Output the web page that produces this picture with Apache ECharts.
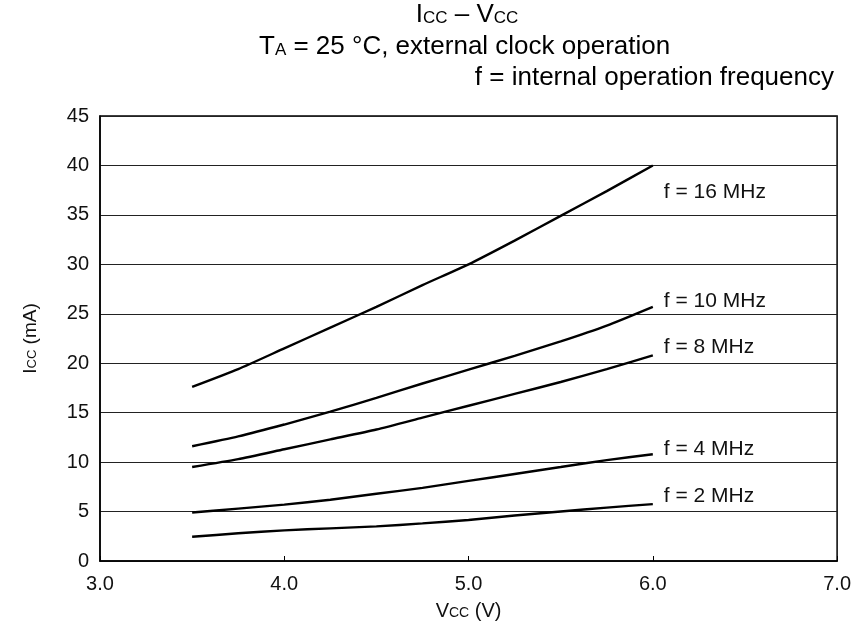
<!DOCTYPE html>
<html>
<head>
<meta charset="utf-8">
<script src="https://cdn.jsdelivr.net/npm/echarts@6/dist/echarts.min.js"></script>
<style>
  html, body { margin: 0; padding: 0; background: #fff; }
  #chart { width: 854px; height: 627px; }
</style>
</head>
<body>
<div id="chart"></div>
<script>
// supply voltage (V)
const vcc = [3.5, 3.75, 4.0, 4.25, 4.5, 4.75, 5.0, 5.25, 5.5, 5.75, 6.0]
// supply current (mA) per operating frequency
const icc16 = [17.6, 19.4, 21.5, 23.6, 25.7, 27.9, 30.0, 32.4, 34.9, 37.4, 40.0]
const icc10 = [11.6, 12.6, 13.8, 15.1, 16.5, 17.95, 19.35, 20.75, 22.2, 23.8, 25.7]
const icc8 = [9.5, 10.3, 11.3, 12.3, 13.3, 14.5, 15.7, 16.9, 18.1, 19.4, 20.8]
const icc4 = [4.9, 5.3, 5.7, 6.2, 6.8, 7.4, 8.1, 8.8, 9.5, 10.2, 10.8]
const icc2 = [2.45, 2.8, 3.1, 3.3, 3.5, 3.8, 4.15, 4.6, 5.0, 5.4, 5.75]

const seriesNames = ['f = 16 MHz', 'f = 10 MHz', 'f = 8 MHz', 'f = 4 MHz', 'f = 2 MHz']
const seriesData = [icc16, icc10, icc8, icc4, icc2]
// vertical nudge of each end label relative to the line end
const labelShift = [27, -6, -8, -5, -8]

const font = 'Liberation Sans, Arial, Helvetica, sans-serif'
const ink = '#000'

const chart = echarts.init(document.getElementById('chart'))

const series = seriesData.map((arr, i) => ({
  name: seriesNames[i],
  type: 'line',
  smooth: 0.2,
  symbol: 'none',
  data: vcc.map((v, k) => [v, arr[k]]),
  lineStyle: { color: ink, width: 2.4 },
  endLabel: {
    show: true,
    formatter: '{a}',
    fontFamily: font,
    fontSize: 21,
    color: '#111',
    distance: 11,
    offset: [0, labelShift[i]],
  },
  z: 3,
}))

const titleRich = {
  n: { fontFamily: font, fontSize: 26, fontWeight: 'normal', color: ink },
  s: { fontFamily: font, fontSize: 17, fontWeight: 'normal', color: ink, verticalAlign: 'bottom', padding: [0, 0, 1, 0] },
}

chart.setOption({
  animation: false,
  title: [
    {
      text: '{n|I}{s|CC}{n| – V}{s|CC}',
      left: 467, top: 2, textAlign: 'center', padding: 0,
      textStyle: { rich: titleRich },
    },
    {
      text: '{n|T}{s|A}{n| = 25 °C, external clock operation}',
      left: 259, top: 34, padding: 0,
      textStyle: { rich: titleRich },
    },
    {
      text: 'f = internal operation frequency',
      right: 20, top: 65, padding: 0,
      textStyle: { fontFamily: font, fontSize: 26, fontWeight: 'normal', color: ink },
    },
  ],
  grid: {
    left: 100, right: 13, top: 116, bottom: 66,
    show: true, borderColor: ink, borderWidth: 1.5,
  },
  xAxis: {
    type: 'value', min: 3, max: 7, interval: 1,
    name: '{n|V}{s|CC}{n| (V)}',
    nameLocation: 'middle', nameGap: 40,
    nameTextStyle: { rich: {
      n: { fontFamily: font, fontSize: 20, color: '#111' },
      s: { fontFamily: font, fontSize: 14, color: '#111', verticalAlign: 'bottom', padding: [0, 0, 1, 0] },
    } },
    axisLine: { show: true, lineStyle: { color: ink, width: 1.5 } },
    axisTick: { show: true, inside: true, length: 5, lineStyle: { color: ink, width: 1 } },
    axisLabel: { fontFamily: font, fontSize: 20, color: '#111', margin: 13, formatter: v => v.toFixed(1) },
    splitLine: { show: false },
  },
  yAxis: {
    type: 'value', min: 0, max: 45, interval: 5,
    name: '{n|I}{s|CC}{n| (mA)}',
    nameLocation: 'middle', nameGap: 60, nameRotate: 90,
    nameTextStyle: { rich: {
      n: { fontFamily: font, fontSize: 19, color: '#111' },
      s: { fontFamily: font, fontSize: 13, color: '#111', verticalAlign: 'bottom', padding: [0, 0, 1, 0] },
    } },
    axisLine: { show: true, lineStyle: { color: ink, width: 1.5 } },
    axisTick: { show: false },
    axisLabel: { fontFamily: font, fontSize: 20, color: '#111', margin: 11 },
    splitLine: { show: true, lineStyle: { color: '#222', width: 1.2 } },
  },
  series,
})
</script>
</body>
</html>
